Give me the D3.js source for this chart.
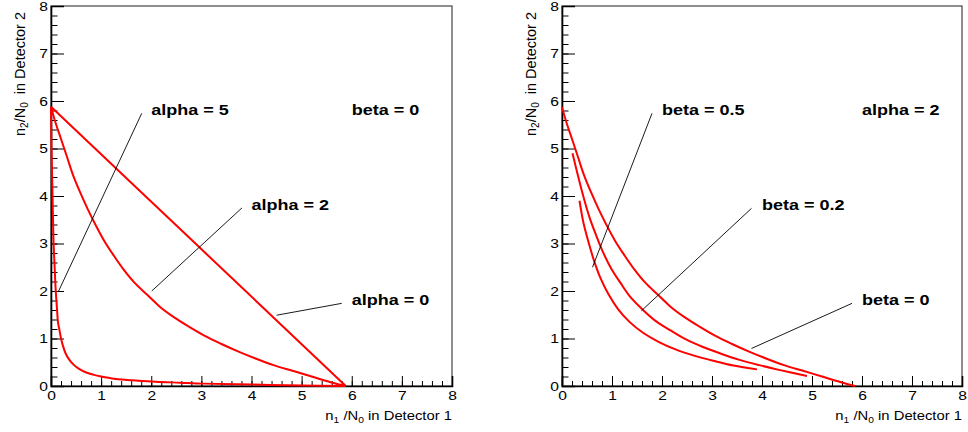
<!DOCTYPE html>
<html>
<head>
<meta charset="utf-8">
<script src="https://cdn.jsdelivr.net/npm/d3@7"></script>
<style>
  body { margin: 0; background: #fff; }
  text { font-family: "Liberation Sans", Arial, Helvetica, sans-serif; }
</style>
</head>
<body>
<script>
// Page size
let width = 968;
let height = 432;

// Axis tick values, shared by both panels
var majorTicks = d3.range(0, 9, 1);
var minorTicks = d3.range(0, 40.5, 1).map(d => d / 5);

// Left panel: beta = 0, three alpha values (x = n1/N0, y = n2/N0)
var alpha0 = [[0, 5.88], [2.94, 2.94], [5.88, 0]];
var alpha2 = [[0, 5.88], [0.08, 5.58], [0.2, 5.2], [0.32, 4.82], [0.44, 4.44], [0.58, 4.08],
              [0.73, 3.73], [0.89, 3.39], [1.06, 3.06], [1.25, 2.75], [1.45, 2.45], [1.67, 2.17],
              [1.92, 1.92], [2.17, 1.67], [2.45, 1.45], [2.75, 1.25], [3.06, 1.06], [3.39, 0.89],
              [3.73, 0.73], [4.08, 0.58], [4.44, 0.44], [4.82, 0.32], [5.2, 0.2], [5.58, 0.08],
              [5.88, 0]];
var alpha5 = [[0, 5.88], [0.01, 5.01], [0.03, 4.03], [0.05, 3.05], [0.07, 2.57], [0.09, 2.09],
              [0.12, 1.62], [0.14, 1.34], [0.17, 1.17], [0.2, 1.0], [0.24, 0.84], [0.29, 0.69],
              [0.36, 0.56], [0.45, 0.45], [0.56, 0.36], [0.69, 0.29], [0.84, 0.24], [1.0, 0.2],
              [1.17, 0.17], [1.34, 0.14], [1.62, 0.12], [2.09, 0.09], [2.57, 0.07], [3.05, 0.05],
              [4.03, 0.03], [5.01, 0.01], [5.88, 0]];

// Right panel: alpha = 2, three beta values
var beta0 = [[0, 5.87], [0.08, 5.58], [0.2, 5.2], [0.32, 4.82], [0.44, 4.44], [0.58, 4.08],
             [0.73, 3.73], [0.89, 3.39], [1.06, 3.06], [1.25, 2.75], [1.45, 2.45], [1.67, 2.17],
             [1.92, 1.92], [2.17, 1.67], [2.45, 1.45], [2.75, 1.25], [3.06, 1.06], [3.39, 0.89],
             [3.73, 0.73], [4.08, 0.58], [4.44, 0.44], [4.82, 0.32], [5.2, 0.2], [5.58, 0.08],
             [5.86, 0]];
var beta02 = [[0.21, 4.9], [0.34, 4.34], [0.44, 3.94], [0.55, 3.55], [0.68, 3.18], [0.82, 2.82],
              [0.98, 2.48], [1.17, 2.17], [1.37, 1.87], [1.61, 1.61], [1.87, 1.37], [2.17, 1.17],
              [2.48, 0.98], [2.82, 0.82], [3.18, 0.68], [3.55, 0.55], [3.94, 0.44], [4.34, 0.34],
              [4.9, 0.21]];
var beta05 = [[0.35, 3.9], [0.43, 3.43], [0.53, 3.03], [0.64, 2.64], [0.77, 2.27], [0.93, 1.93],
              [1.12, 1.62], [1.35, 1.35], [1.62, 1.12], [1.93, 0.93], [2.27, 0.77], [2.64, 0.64],
              [3.03, 0.53], [3.43, 0.43], [3.9, 0.35]];

// Label texts
var leftLabels = ['alpha = 5', 'beta = 0', 'alpha = 2', 'alpha = 0'];
var rightLabels = ['beta = 0.5', 'alpha = 2', 'beta = 0.2', 'beta = 0'];

// Where labels and their pointer lines sit, in data units: [text x, text y, line from, line to]
var leftNotes = [
  [2, 5.7, [1.81, 5.74], [0.146, 1.985]],
  [6, 5.7, null, null],
  [4, 3.7, [3.81, 3.75], [2.01, 2.0]],
  [6, 1.7, [5.8, 1.74], [4.5, 1.49]]
];
var rightNotes = [
  [2, 5.7, [1.8, 5.74], [0.61, 2.5]],
  [6, 5.7, null, null],
  [4, 3.7, [3.79, 3.74], [1.59, 1.585]],
  [6, 1.7, [5.8, 1.74], [3.79, 0.79]]
];

// Create SVG space
var svg = d3.select('body')
            .append('svg')
            .attr('width', width)
            .attr('height', height);

svg.append('rect').attr('width', width).attr('height', height).attr('fill', '#fff');

// Stretch factor to mimic the wide glyphs of the original
let stretch = 1.2;

function drawPanel(left, right, curves, labels, notes) {
  let top = 6;
  let bottom = 386;

  var x = d3.scaleLinear().domain([0, 8]).range([left, right]);
  var y = d3.scaleLinear().domain([0, 8]).range([bottom, top]);

  var g = svg.append('g');

  // Frame (top and right sides)
  g.append('rect')
   .attr('x', left).attr('y', top)
   .attr('width', right - left).attr('height', bottom - top)
   .attr('fill', 'none').attr('stroke', '#444').attr('stroke-width', 1.2);

  // Minor ticks
  g.append('g')
   .attr('transform', 'translate(0,' + bottom + ')')
   .call(d3.axisBottom(x).tickValues(minorTicks).tickSize(-5).tickFormat(''))
   .call(a => a.select('.domain').remove());
  g.append('g')
   .attr('transform', 'translate(' + left + ',0)')
   .call(d3.axisLeft(y).tickValues(minorTicks).tickSize(-6.5).tickFormat(''))
   .call(a => a.select('.domain').remove());

  // Major ticks with labels
  var xAxis = g.append('g')
   .attr('transform', 'translate(0,' + bottom + ')')
   .call(d3.axisBottom(x).tickValues(majorTicks).tickSize(-10).tickPadding(3).tickFormat(d3.format('d')));
  var yAxis = g.append('g')
   .attr('transform', 'translate(' + left + ',0)')
   .call(d3.axisLeft(y).tickValues(majorTicks).tickSize(-13).tickPadding(2.5).tickFormat(d3.format('d')));

  [xAxis, yAxis].forEach(function(a) {
    a.selectAll('text')
     .style('font-size', '13px')
     .attr('fill', '#000')
     .attr('transform', 'scale(' + stretch + ',1)');
    a.selectAll('.tick line').attr('stroke', '#000').attr('stroke-width', 1);
    a.select('.domain').attr('stroke', '#000').attr('stroke-width', 1.6);
  });
  xAxis.selectAll('text').attr('y', 5).attr('dy', '0.71em');

  // X axis title
  var xt = g.append('text')
   .attr('transform', 'translate(' + right + ',420) scale(' + (stretch * 0.95) + ',1)')
   .attr('text-anchor', 'end')
   .style('font-size', '13px');
  xt.append('tspan').text('n');
  xt.append('tspan').attr('dy', 3).style('font-size', '9px').text('1');
  xt.append('tspan').attr('dy', -3).text(' /N');
  xt.append('tspan').attr('dy', 3).style('font-size', '9px').text('0');
  xt.append('tspan').attr('dy', -3).text(' in Detector 1');

  // Y axis title
  var yt = g.append('text')
   .attr('transform', 'translate(' + (left - 26.5) + ',12) rotate(-90)')
   .attr('text-anchor', 'end')
   .style('font-size', '14.5px')
   .style('white-space', 'pre');
  yt.append('tspan').text('n');
  yt.append('tspan').attr('dy', 3).style('font-size', '10px').text('2');
  yt.append('tspan').attr('dy', -3).text('/N');
  yt.append('tspan').attr('dy', 3).style('font-size', '10px').text('0');
  yt.append('tspan').attr('dy', -3).text('  in Detector 2');

  // Curves
  var line = d3.line()
               .x(d => x(d[0]))
               .y(d => y(d[1]))
               .curve(d3.curveCatmullRom.alpha(0.5));

  curves.forEach(function(c) {
    g.append('path')
     .attr('d', line(c))
     .attr('fill', 'none')
     .attr('stroke', '#ff0000')
     .attr('stroke-width', 2);
  });

  // Labels and pointer lines
  notes.forEach(function(n, i) {
    if (n[2]) {
      g.append('line')
       .attr('x1', x(n[2][0])).attr('y1', y(n[2][1]))
       .attr('x2', x(n[3][0])).attr('y2', y(n[3][1]))
       .attr('stroke', '#000').attr('stroke-width', 0.9);
    }
    g.append('text')
     .attr('transform', 'translate(' + x(n[0]) + ',' + y(n[1]) + ') scale(' + stretch + ',1)')
     .style('font-size', '15px')
     .style('font-weight', 'bold')
     .text(labels[i]);
  });
}

drawPanel(51, 452, [alpha0, alpha2, alpha5], leftLabels, leftNotes);
drawPanel(562, 962, [beta0, beta02, beta05], rightLabels, rightNotes);
</script>
</body>
</html>
